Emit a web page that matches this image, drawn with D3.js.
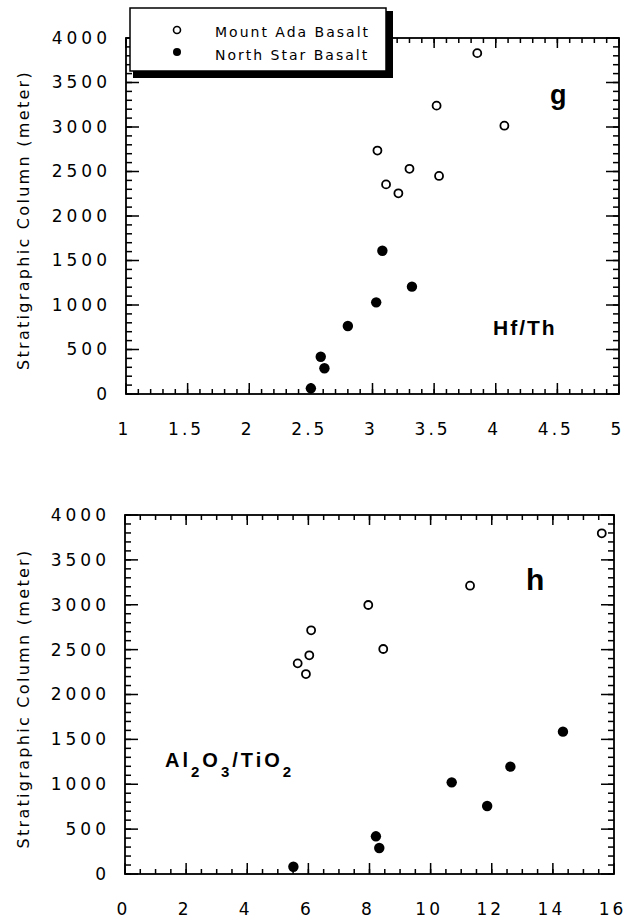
<!DOCTYPE html>
<html>
<head>
<meta charset="utf-8">
<script src="https://cdn.jsdelivr.net/npm/d3@7"></script>
</head>
<body style="margin:0">
<script>

// valori (g = Hf/Th, h = Al2O3/TiO2)
const adaHfTh     = [3.85, 3.52, 4.07, 3.04, 3.30, 3.54, 3.11, 3.21];
const adaHeightG  = [3830, 3240, 3015, 2735, 2530, 2450, 2355, 2255];
const starHfTh    = [3.08, 3.32, 3.03, 2.80, 2.58, 2.61, 2.50];
const starHeightG = [1610, 1206, 1030, 764, 419, 289, 64];

const adaAlTi     = [15.60, 11.29, 7.96, 6.09, 8.45, 6.03, 5.65, 5.92];
const adaHeightH  = [3796, 3212, 2997, 2715, 2507, 2437, 2347, 2228];
const starAlTi    = [14.33, 12.61, 10.69, 11.85, 8.21, 8.32, 5.51];
const starHeightH = [1586, 1196, 1021, 758, 420, 290, 81];

const xTicksG = [1, 1.5, 2, 2.5, 3, 3.5, 4, 4.5, 5];
const xTicksH = [0, 2, 4, 6, 8, 10, 12, 14, 16];
const yTicks  = [0, 500, 1000, 1500, 2000, 2500, 3000, 3500, 4000];

const legendNames = ['Mount Ada Basalt', 'North Star Basalt'];

const font = "'DejaVu Sans', sans-serif";
const boldFont = "'Liberation Sans', Arial, sans-serif";

const svg = d3.select('body')
    .append('svg')
    .attr('width', 626)
    .attr('height', 922);

const pannelli = [
    {
        left: 126, right: 619, top: 38, bottom: 394,
        xDomain: [1, 5], xMajor: xTicksG, xMinorStep: 0.1,
        ada: d3.zip(adaHfTh, adaHeightG),
        star: d3.zip(starHfTh, starHeightG)
    },
    {
        left: 125, right: 614, top: 515, bottom: 874,
        xDomain: [0, 16], xMajor: xTicksH, xMinorStep: 0.5,
        ada: d3.zip(adaAlTi, adaHeightH),
        star: d3.zip(starAlTi, starHeightH)
    }
];

pannelli.forEach(p => {
    p.x = d3.scaleLinear().domain(p.xDomain).range([p.left, p.right]);
    p.y = d3.scaleLinear().domain([0, 4000]).range([p.bottom, p.top]);
});

// etichette con l'asse di d3, senza linee
function addLabels(axis, transform) {
    const a = svg.append('g')
        .attr('transform', transform)
        .call(axis.tickSize(0).tickSizeOuter(0).tickFormat(d => d));
    a.select('.domain').remove();
    a.selectAll('line').remove();
    a.selectAll('text')
        .attr('fill', 'black')
        .attr('font-family', font)
        .attr('font-size', 17);
    return a;
}

// cornici (sfondo bianco) e tacche come rettangoli pieni
pannelli.forEach(p => {

    const x = p.x, y = p.y;
    const xMinor = d3.range(p.xDomain[0], p.xDomain[1] + 1e-6, p.xMinorStep);
    const yMinor = d3.range(0, 4000 + 1e-6, 100);

    svg.append('rect')
        .attr('x', p.left)
        .attr('y', p.top)
        .attr('width', p.right - p.left)
        .attr('height', p.bottom - p.top)
        .attr('fill', 'white')
        .attr('stroke', 'black')
        .attr('stroke-width', 1.8);

    const tacche = [];
    xMinor.forEach(v => {
        tacche.push({ x: x(v) - 0.75, y: p.bottom - 5, w: 1.5, h: 5 });
        tacche.push({ x: x(v) - 0.75, y: p.top, w: 1.5, h: 5 });
    });
    p.xMajor.forEach(v => {
        tacche.push({ x: x(v) - 0.75, y: p.bottom - 11, w: 1.5, h: 11 });
        tacche.push({ x: x(v) - 0.75, y: p.top, w: 1.5, h: 10 });
    });
    yMinor.forEach(v => {
        tacche.push({ x: p.left, y: y(v) - 0.75, w: 6, h: 1.5 });
        tacche.push({ x: p.right - 6, y: y(v) - 0.75, w: 6, h: 1.5 });
    });
    yTicks.forEach(v => {
        tacche.push({ x: p.left, y: y(v) - 0.75, w: 13, h: 1.5 });
        tacche.push({ x: p.right - 13, y: y(v) - 0.75, w: 13, h: 1.5 });
    });

    svg.append('g')
        .selectAll('rect')
        .data(tacche)
        .enter().append('rect')
        .attr('x', d => d.x)
        .attr('y', d => d.y)
        .attr('width', d => d.w)
        .attr('height', d => d.h)
        .attr('fill', 'black');
});

// punti ed etichette degli assi
pannelli.forEach(p => {

    const g = svg.append('g');

    g.selectAll('.ada')
        .data(p.ada)
        .enter().append('circle')
        .attr('class', 'ada')
        .attr('cx', d => p.x(d[0]))
        .attr('cy', d => p.y(d[1]))
        .attr('r', 4)
        .attr('fill', 'white')
        .attr('stroke', 'black')
        .attr('stroke-width', 1.8);

    g.selectAll('.star')
        .data(p.star)
        .enter().append('circle')
        .attr('class', 'star')
        .attr('cx', d => p.x(d[0]))
        .attr('cy', d => p.y(d[1]))
        .attr('r', 5.2)
        .attr('fill', 'black');

    addLabels(d3.axisBottom(p.x).tickValues(p.xMajor).tickPadding(29), 'translate(0,' + p.bottom + ')')
        .selectAll('text')
        .attr('dx', -2)
        .style('letter-spacing', '3px');

    addLabels(d3.axisLeft(p.y).tickValues(yTicks).tickPadding(15), 'translate(' + p.left + ',0)')
        .selectAll('text')
        .style('letter-spacing', '4px');
});

// titoli degli assi y
svg.selectAll('.titolo')
    .data(pannelli)
    .enter().append('text')
    .attr('class', 'titolo')
    .attr('transform', p => 'translate(29,' + ((p.top + p.bottom) / 2 + 4) + ') rotate(-90)')
    .attr('text-anchor', 'middle')
    .attr('font-family', font)
    .attr('font-size', 16)
    .style('letter-spacing', '2.3px')
    .text('Stratigraphic Column (meter)');

// etichette dei pannelli
svg.append('text')
    .attr('x', 550).attr('y', 104)
    .attr('font-family', boldFont)
    .attr('font-weight', 'bold')
    .attr('font-size', 27)
    .text('g');

svg.append('text')
    .attr('x', 493).attr('y', 335)
    .attr('font-family', boldFont)
    .attr('font-weight', 'bold')
    .attr('font-size', 21)
    .style('letter-spacing', '2px')
    .text('Hf/Th');

svg.append('text')
    .attr('x', 526).attr('y', 590)
    .attr('font-family', boldFont)
    .attr('font-weight', 'bold')
    .attr('font-size', 30)
    .text('h');

const formula = svg.append('text')
    .attr('x', 165).attr('y', 767)
    .attr('font-family', boldFont)
    .attr('font-weight', 'bold')
    .attr('font-size', 20)
    .style('letter-spacing', '3px');

[['Al', 0], ['2', 1], ['O', 0], ['3', 1], ['/TiO', 0], ['2', 1]].forEach((s, i, arr) => {
    const prev = i > 0 ? arr[i - 1][1] : 0;
    formula.append('tspan')
        .attr('font-size', s[1] ? 15 : 20)
        .attr('dy', s[1] === prev ? 0 : (s[1] ? 10 : -10))
        .text(s[0]);
});

// legenda con ombra
const legend = svg.append('g');

legend.append('rect')
    .attr('x', 133).attr('y', 11)
    .attr('width', 260).attr('height', 67)
    .attr('fill', 'black');

legend.append('rect')
    .attr('x', 130).attr('y', 8)
    .attr('width', 256).attr('height', 63)
    .attr('fill', 'white')
    .attr('stroke', 'black')
    .attr('stroke-width', 1.5);

legend.selectAll('.voce')
    .data(legendNames)
    .enter().append('text')
    .attr('class', 'voce')
    .attr('x', 215)
    .attr('y', (d, i) => 37 + i * 23)
    .attr('font-family', font)
    .attr('font-size', 14)
    .style('letter-spacing', '2px')
    .text(d => d);

legend.append('circle')
    .attr('cx', 177).attr('cy', 30).attr('r', 3.5)
    .attr('fill', 'white').attr('stroke', 'black').attr('stroke-width', 1.6);

legend.append('circle')
    .attr('cx', 177).attr('cy', 52).attr('r', 4)
    .attr('fill', 'black');

</script>
</body>
</html>
